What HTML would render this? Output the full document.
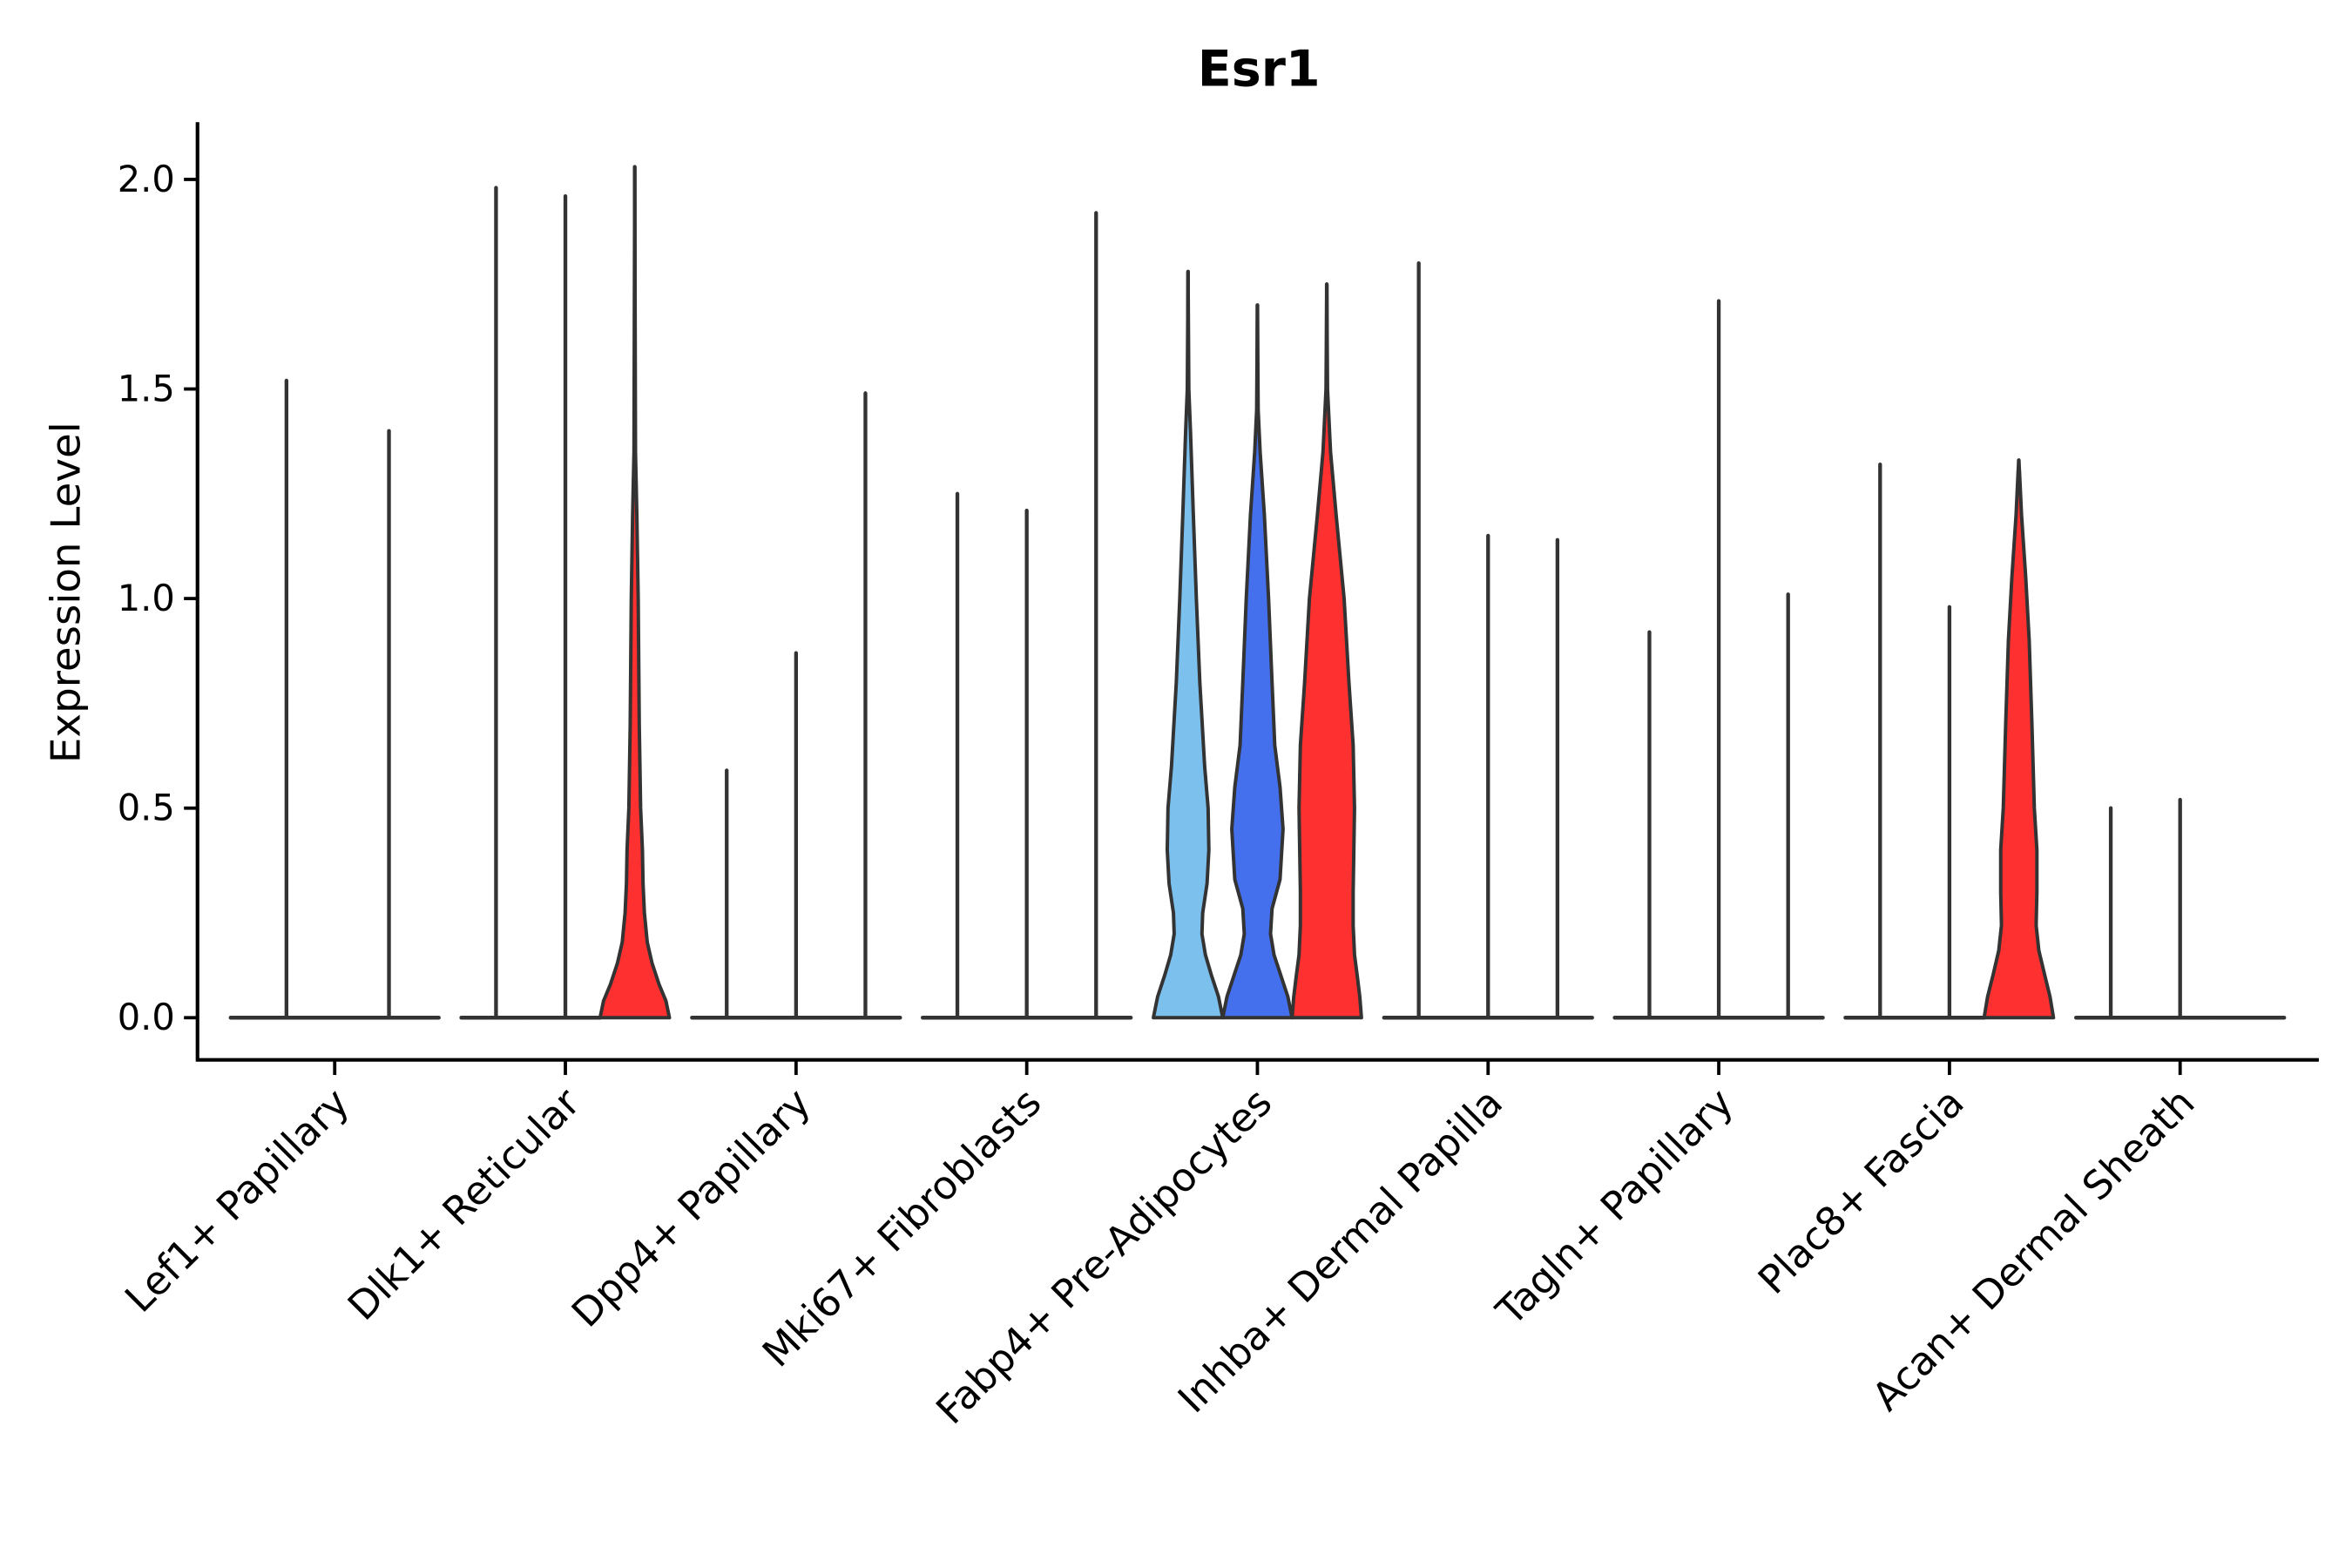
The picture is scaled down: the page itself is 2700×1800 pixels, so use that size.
<!DOCTYPE html>
<html><head><meta charset="utf-8"><style>
html,body{margin:0;padding:0;background:#fff;}
svg{display:block;}
text{font-family:"DejaVu Sans","Liberation Sans",sans-serif;}
</style></head><body>
<svg id="chart" width="2700" height="1800" viewBox="0 0 1560 1040" xmlns="http://www.w3.org/2000/svg">
<rect width="1560" height="1040" fill="#fff"/>
<text x="835" y="57" font-size="33" font-weight="bold" text-anchor="middle">Esr1</text>
<text transform="translate(53,393) rotate(-90)" font-size="27" text-anchor="middle">Expression Level</text>
<g id="marks"></g>
<g id="axes"></g>
</svg>
<script>
const categories = ["Lef1+ Papillary","Dlk1+ Reticular","Dpp4+ Papillary","Mki67+ Fibroblasts","Fabp4+ Pre-Adipocytes","Inhba+ Dermal Papilla","Tagln+ Papillary","Plac8+ Fascia","Acan+ Dermal Sheath"];
const maxA = [1.52,1.98,0.59,1.25,1.78,1.80,0.92,1.32,0.50];
const maxB = [0,1.96,0.87,1.21,1.70,1.15,1.71,0.98,0.52];
const maxC = [1.40,2.03,1.49,1.92,1.75,1.14,1.01,1.33,0];
const spikeShift = [[14,0,-10],[0,0,0],[0,0,0],[0,0,0],[0,0,0],[0,0,0],[0,0,0],[0,0,0],[0,0,0]];
const yTicks = [0,0.5,1.0,1.5,2.0];
const yTickLabels = ["0.0","0.5","1.0","1.5","2.0"];
// density profiles: [value, relative half-width]
const profDlk1Red = [[0,1],[0.04,0.9],[0.08,0.7],[0.13,0.5],[0.18,0.36],[0.25,0.28],[0.32,0.24],[0.4,0.22],[0.5,0.17],[0.7,0.13],[1.0,0.1],[1.2,0.06],[1.35,0.02]];
const profFabpLight = [[0,1],[0.05,0.88],[0.1,0.68],[0.15,0.5],[0.2,0.4],[0.25,0.42],[0.32,0.55],[0.4,0.6],[0.5,0.58],[0.6,0.48],[0.8,0.34],[1.0,0.24],[1.2,0.15],[1.4,0.07],[1.5,0.02]];
const profFabpBlue = [[0,1],[0.05,0.88],[0.1,0.68],[0.15,0.48],[0.2,0.38],[0.26,0.42],[0.33,0.65],[0.45,0.74],[0.55,0.65],[0.65,0.5],[0.8,0.42],[1.0,0.32],[1.2,0.2],[1.35,0.08],[1.45,0.02]];
const profFabpRed = [[0,1],[0.05,0.95],[0.1,0.88],[0.15,0.8],[0.22,0.76],[0.3,0.76],[0.5,0.8],[0.65,0.76],[0.8,0.64],[1.0,0.5],[1.2,0.27],[1.35,0.11],[1.5,0.02]];
const profPlacRed = [[0,1],[0.05,0.9],[0.1,0.75],[0.16,0.58],[0.22,0.5],[0.3,0.52],[0.4,0.52],[0.5,0.45],[0.7,0.38],[0.9,0.3],[1.05,0.2],[1.2,0.08],[1.3,0.02]];
const filled = {"1-2":[profDlk1Red,"#ff3030"],"4-0":[profFabpLight,"#7cc0ee"],"4-1":[profFabpBlue,"#4470ee"],"4-2":[profFabpRed,"#ff3030"],"7-2":[profPlacRed,"#ff3030"]};

const NS="http://www.w3.org/2000/svg";
const y0=675, pxPerUnit=278, x0=222, step=153, off=46, hw=23;
const yS = v => y0 - v*pxPerUnit;
const xS = i => x0 + i*step;
const marks=document.getElementById('marks'), axes=document.getElementById('axes');
function mk(tag,attrs,parent){const e=document.createElementNS(NS,tag);for(const k in attrs)e.setAttribute(k,attrs[k]);parent.appendChild(e);return e;}

const maxes=[maxA,maxB,maxC];
categories.forEach((c,i)=>{
  for(let k=0;k<3;k++){
    const cx=xS(i)+(k-1)*off;
    const key=i+"-"+k;
    const mv=maxes[k][i];
    if(filled[key]){
      const [prof,col]=filled[key];
      let L=[],R=[];
      prof.forEach(p=>{L.push((cx-p[1]*hw).toFixed(1)+","+yS(p[0]).toFixed(1));R.unshift((cx+p[1]*hw).toFixed(1)+","+yS(p[0]).toFixed(1));});
      const top=prof[prof.length-1][0];
      const d="M"+L.join(" L")+" L"+cx+","+yS(mv)+" L"+R.join(" L")+" Z";
      const p=mk('path',{d:d,fill:col,stroke:"#333",'stroke-width':2.3,'stroke-linejoin':'round'},marks);
      
      
      const s=mk('line',{x1:cx,x2:cx,y1:yS(top),y2:yS(mv),stroke:"#333",'stroke-width':2.5,'stroke-linecap':'round'},marks);
      
      
    } else {
      const b=mk('line',{x1:cx-hw,x2:cx+hw,y1:y0,y2:y0,stroke:"#333",'stroke-width':2.6,'stroke-linecap':'round'},marks);
      
      
      if(mv>0){
        const sx=cx+spikeShift[i][k];
        const s=mk('line',{x1:sx,x2:sx,y1:y0,y2:yS(mv),stroke:"#333",'stroke-width':2.5,'stroke-linecap':'round'},marks);
        
        
      }
    }
  }
  const t=mk('line',{x1:xS(i),x2:xS(i),y1:703,y2:713,stroke:"#000",'stroke-width':2.2},axes);
  
  
  const lbl=mk('text',{transform:`translate(${xS(i)+11},${733}) rotate(-45)`,'font-size':26,'text-anchor':'end'},axes);
  lbl.textContent=c;
  
  
});
yTicks.forEach((v,j)=>{
  const t=mk('line',{x1:122,x2:131,y1:yS(v),y2:yS(v),stroke:"#000",'stroke-width':2.2},axes);
  
  
  const l=mk('text',{x:116,y:yS(v)+8,'font-size':24,'text-anchor':'end'},axes);
  l.textContent=yTickLabels[j];
  
  
});
const ya=mk('line',{x1:131,x2:131,y1:81,y2:704,stroke:"#000",'stroke-width':2.4},axes);


const xa=mk('line',{x1:130,x2:1538,y1:703,y2:703,stroke:"#000",'stroke-width':2.4},axes);


</script>
</body></html>
